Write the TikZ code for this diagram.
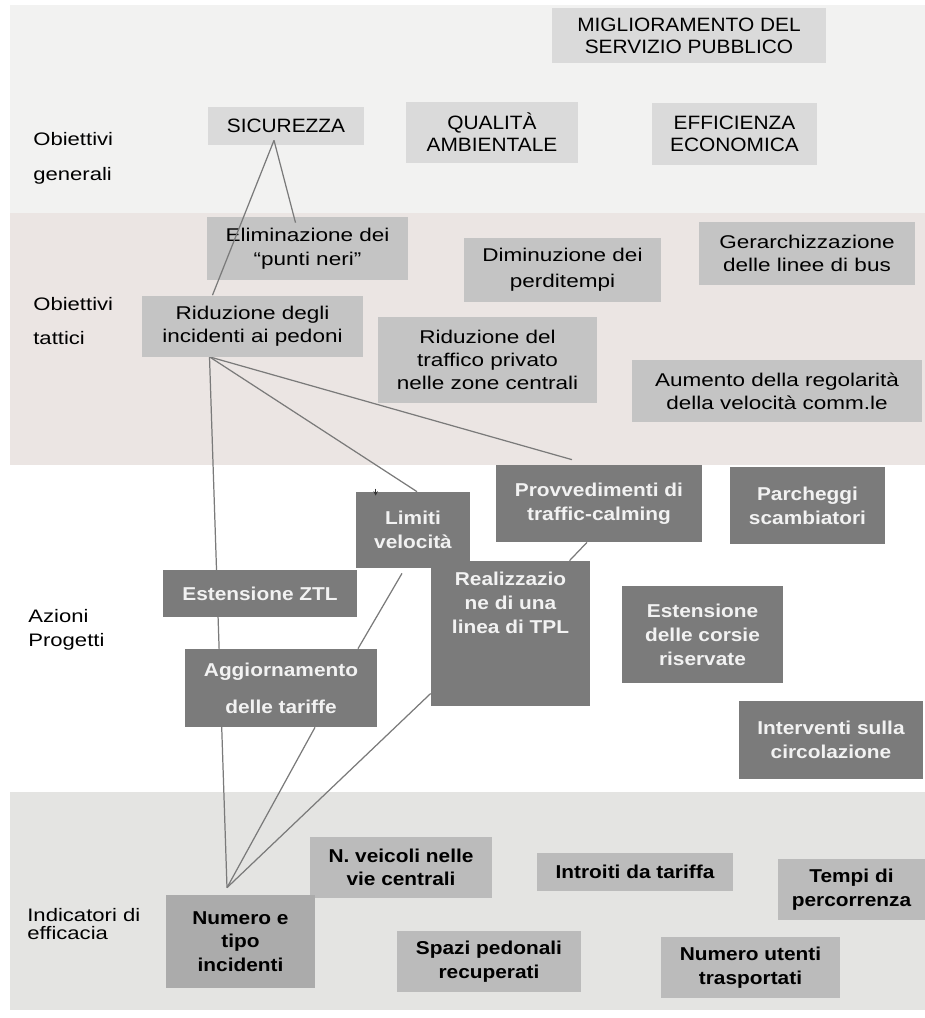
\documentclass[tikz,border=0pt]{standalone}
\usepackage{fontspec}
\setmainfont[FakeStretch=1.22]{Liberation Sans}
\newfontfamily\capsfont[FakeStretch=1.08]{Liberation Sans}
\newfontfamily\boxfont[FakeStretch=1.12]{Liberation Sans}
\usepackage{xcolor}
\usetikzlibrary{positioning,calc,backgrounds,arrows.meta}

\definecolor{bandA}{HTML}{F2F2F1}
\definecolor{bandB}{HTML}{EBE5E3}
\definecolor{bandD}{HTML}{E4E4E2}
\definecolor{boxA}{HTML}{DADADA}
\definecolor{boxB}{HTML}{C4C4C4}
\definecolor{boxC}{HTML}{7B7B7B}
\definecolor{boxD}{HTML}{BBBBBB}
\definecolor{boxE}{HTML}{ABABAB}
\definecolor{linkgray}{HTML}{7A7A7A}

\tikzset{
    wh/.style 2 args={minimum width={#1*0.02cm}, minimum height={#2*0.02cm}},
    gbox/.style={rectangle, fill=boxA, inner sep=0pt, align=center, font=\capsfont\fontsize{11}{12.5}\selectfont},
    tbox/.style={rectangle, fill=boxB, inner sep=0pt, align=center, font=\fontsize{10.5}{13}\selectfont},
    dbox/.style={rectangle, fill=boxC, inner sep=0pt, align=center, text=white!95!black, font=\boxfont\bfseries\fontsize{10.6}{13.6}\selectfont},
    ibox/.style={rectangle, fill=boxD, inner sep=0pt, align=center, font=\boxfont\bfseries\fontsize{10.6}{13.3}\selectfont},
    lev/.style={anchor=west, inner sep=0pt, align=left},
    link/.style={draw=linkgray, line width=0.7pt}
}

\begin{document}
\begin{tikzpicture}[x=0.02cm, y=-0.02cm]
    \useasboundingbox (0,0) rectangle (925,1018);

    % Bands
    \begin{scope}[on background layer]
        \fill[bandA] (10,5) rectangle (925,213);
        \fill[bandB] (10,213) rectangle (925,465);
        \fill[bandD] (10,792) rectangle (925,1010);
    \end{scope}

    % Obiettivi generali
    \node[lev, font=\fontsize{10.3}{19.8}\selectfont] (lgen) at (33,158) {Obiettivi\\generali};
    \node[gbox, wh={274}{55}] (mig) at (689,35.5) {MIGLIORAMENTO DEL\\SERVIZIO PUBBLICO};
    \node[gbox, wh={156}{38}] (sic) at (286,126) {SICUREZZA};
    \node[gbox, wh={172}{61}] (qual) at (492,132.5) {QUALITÀ\\AMBIENTALE};
    \node[gbox, wh={165}{62}] (eff) at (734.5,134) {EFFICIENZA\\ECONOMICA};

    % Obiettivi tattici
    \node[lev, font=\fontsize{10.3}{19.3}\selectfont] (ltat) at (33,321) {Obiettivi\\tattici};
    \node[tbox, wh={201}{63}, font=\fontsize{10.5}{13.6}\selectfont] (elim) at (307.5,248.5) {Eliminazione dei\\“punti neri”};
    \node[tbox, wh={197}{64}, font=\fontsize{10.5}{15}\selectfont] (dim) at (562.5,270) {Diminuzione dei\\perditempi};
    \node[tbox, wh={216}{63}] (ger) at (807,253.5) {Gerarchizzazione\\delle linee di bus};
    \node[tbox, wh={221}{61}] (rid) at (252.5,326) {Riduzione degli\\incidenti ai pedoni};
    \node[tbox, wh={219}{86}] (rtp) at (487.5,360) {Riduzione del\\traffico privato\\nelle zone centrali};
    \node[tbox, wh={290}{62}] (aum) at (777,391) {Aumento della regolarità\\della velocità comm.le};

    % Azioni / progetti
    \node[lev, font=\fontsize{10.3}{13.5}\selectfont] (lazi) at (28,630) {Azioni\\Progetti};
    \node[dbox, wh={114}{76}] (lim) at (413,530) {Limiti\\velocità};
    \node[dbox, wh={206}{77}] (prov) at (599,503.5) {Provvedimenti di\\traffic-calming};
    \node[dbox, wh={155}{77}] (parc) at (807.5,505.5) {Parcheggi\\scambiatori};
    \node[dbox, wh={194}{47}] (ztl) at (260,593.5) {Estensione ZTL};
    \node[dbox, wh={159}{145}] (real) at (510.5,633.5) {};
    \node[dbox, fill=none] (realtxt) at (510.5,603) {Realizzazio\\ne di una\\linea di TPL};
    \node[dbox, wh={161}{97}] (cors) at (702.5,634.5) {Estensione\\delle corsie\\riservate};
    \node[dbox, wh={192}{78}, font=\boxfont\bfseries\fontsize{10.6}{21}\selectfont] (agg) at (281,688) {Aggiornamento\\delle tariffe};
    \node[dbox, wh={184}{78}] (int) at (831,740) {Interventi sulla\\circolazione};

    % Indicatori di efficacia
    \node[lev, font=\fontsize{10.3}{10}\selectfont] (lind) at (27,924) {Indicatori di\\efficacia};
    \node[ibox, wh={182}{61}] (nveic) at (401,867.5) {N. veicoli nelle\\vie centrali};
    \node[ibox, wh={149}{93}, fill=boxE] (num) at (240.5,941.5) {Numero e\\tipo\\incidenti};
    \node[ibox, wh={196}{38}] (intr) at (635,872) {Introiti da tariffa};
    \node[ibox, wh={147}{61}] (tempi) at (851.5,889.5) {Tempi di\\percorrenza};
    \node[ibox, wh={184}{61}] (spazi) at (489,961.5) {Spazi pedonali\\recuperati};
    \node[ibox, wh={179}{61}] (utenti) at (750.5,967.5) {Numero utenti\\trasportati};

    % Links behind the boxes
    \begin{scope}[on background layer]
        \draw[link] ($(rid.south)+(-43,0)$) -- ($(num.north)+(-13.5,-7)$);
        \draw[link] ($(rid.south)+(-43,0)$) -- ($(lim.north)+(4,0)$);
        \draw[link] ($(rid.south)+(-43,0)$) -- ($(prov.north)+(-27,-5)$);
        \draw[link] ($(prov.south)+(-12,0)$) -- ($(real.north)+(59,0)$);
        \draw[link] ($(lim.south)+(-11,5)$) -- ($(agg.north)+(77,0)$);
        \draw[link] ($(agg.south)+(34,0)$) -- ($(num.north)+(-13.5,-7)$);
        \draw[link] ($(real.west)+(0,60)$) -- ($(num.north)+(-13.5,-7)$);
    \end{scope}

    % Sicurezza
    \draw[link] ($(sic.south)+(-12,-5)$) -- ($(elim.north)+(-12,6)$);
    \draw[link] ($(sic.south)+(-12,-5)$) -- ($(rid.north)+(-40,0)$);
    \draw[-{Stealth[length=2.5pt,width=2.5pt]}, line width=0.5pt, black!80] ($(lim.north west)+(20,-3)$) -- ($(lim.north west)+(20,4)$);
\end{tikzpicture}
\end{document}
